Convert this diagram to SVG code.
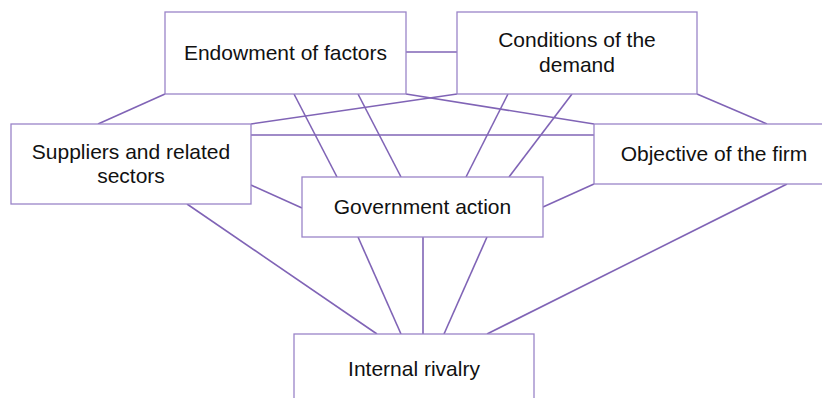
<svg xmlns="http://www.w3.org/2000/svg" width="822" height="398" viewBox="0 0 822 398">
  <style>
    .box { fill: #ffffff; stroke: #9a84c8; stroke-width: 1.3; }
    .lbl { font-family: "Liberation Sans", Arial, Helvetica, sans-serif; font-size: 21px; fill: #111111; text-anchor: middle; }
    .links line { stroke: #8064b6; stroke-width: 1.6; }
  </style>
  <rect width="822" height="398" fill="#ffffff"/>

  <!-- connectors -->
  <g id="connectors" class="links">
    <line x1="406" y1="52" x2="457" y2="52"/>
    <line x1="165" y1="94" x2="98" y2="124"/>
    <line x1="294" y1="94" x2="337" y2="177"/>
    <line x1="358" y1="94" x2="401" y2="177"/>
    <line x1="406" y1="94" x2="594" y2="124"/>
    <line x1="457" y1="94" x2="251" y2="124"/>
    <line x1="508" y1="94" x2="466" y2="177"/>
    <line x1="572" y1="94" x2="509" y2="177"/>
    <line x1="697" y1="94" x2="767" y2="124"/>
    <line x1="251" y1="135" x2="594" y2="135"/>
    <line x1="251" y1="185" x2="302" y2="208"/>
    <line x1="594" y1="184" x2="543" y2="207"/>
    <line x1="187" y1="204" x2="377" y2="334"/>
    <line x1="358" y1="237" x2="401" y2="334"/>
    <line x1="423" y1="237" x2="423" y2="334"/>
    <line x1="487" y1="237" x2="444" y2="334"/>
    <line x1="787" y1="184" x2="487" y2="334"/>
  </g>

  <!-- nodes -->
  <g id="endowment">
    <rect class="box" x="165" y="12" width="241" height="82"/>
    <text class="lbl" x="285.5" y="60">Endowment of factors</text>
  </g>
  <g id="demand">
    <rect class="box" x="457" y="12" width="240" height="82"/>
    <text class="lbl" x="577" y="46.5">Conditions of the</text>
    <text class="lbl" x="577" y="72">demand</text>
  </g>
  <g id="suppliers">
    <rect class="box" x="11" y="124" width="240" height="80"/>
    <text class="lbl" x="131" y="158.5">Suppliers and related</text>
    <text class="lbl" x="131" y="182.5">sectors</text>
  </g>
  <g id="objective">
    <rect class="box" x="594" y="124" width="240" height="60"/>
    <text class="lbl" x="714" y="161">Objective of the firm</text>
  </g>
  <g id="government">
    <rect class="box" x="302" y="177" width="241" height="60"/>
    <text class="lbl" x="422.5" y="214">Government action</text>
  </g>
  <g id="rivalry">
    <rect class="box" x="294" y="334" width="240" height="80"/>
    <text class="lbl" x="414" y="375.5">Internal rivalry</text>
  </g>
</svg>
